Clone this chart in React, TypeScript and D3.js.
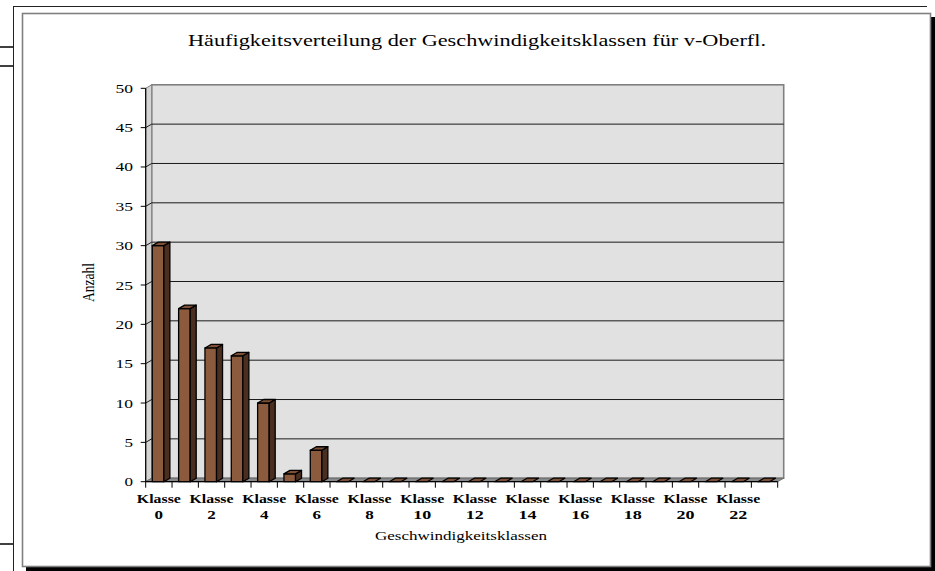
import React from "react";
import * as d3 from "d3";

// Speed-class frequency distribution (3D column chart)
const categories = [
  "Klasse 0", "Klasse 1", "Klasse 2", "Klasse 3", "Klasse 4", "Klasse 5",
  "Klasse 6", "Klasse 7", "Klasse 8", "Klasse 9", "Klasse 10", "Klasse 11",
  "Klasse 12", "Klasse 13", "Klasse 14", "Klasse 15", "Klasse 16", "Klasse 17",
  "Klasse 18", "Klasse 19", "Klasse 20", "Klasse 21", "Klasse 22", "Klasse 23",
];
const counts = [30, 22, 17, 16, 10, 1, 4, 0, 0, 0, 0, 0, 0, 0, 0, 0, 0, 0, 0, 0, 0, 0, 0, 0];
const yTicks = [0, 5, 10, 15, 20, 25, 30, 35, 40, 45, 50];

const title = "Häufigkeitsverteilung der Geschwindigkeitsklassen für v-Oberfl.";
const xTitle = "Geschwindigkeitsklassen";
const yTitle = "Anzahl";

const W = 935;
const H = 571;
const FONT = "'Liberation Serif', 'Times New Roman', serif";

// 3D depth offset of the back wall
const DX = 6;
const DY = -3.5;

export default function App() {
  const x = d3
    .scaleBand<string>()
    .domain(categories)
    .range([145.7, 777.7])
    .paddingInner(0)
    .paddingOuter(0);
  const y = d3.scaleLinear().domain([0, 50]).range([481.7, 88.3]);

  const x0 = x.range()[0];
  const x1 = x.range()[1];
  const y0 = y(0);
  const yTop = y(50);
  const bw = x.bandwidth();
  const barOff = bw * 0.25;
  const barW = bw * 0.44;

  const pts = (p: [number, number][]) => p.map((q) => q.join(",")).join(" ");

  return (
    <svg
      width={W}
      height={H}
      style={{ position: "absolute", left: 0, top: 0, display: "block", background: "#fff" }}
      fontFamily={FONT}
    >
      {/* page edges */}
      <line x1={13} y1={6.5} x2={927} y2={6.5} stroke="#222" strokeWidth={1} />
      <line x1={13.5} y1={6} x2={13.5} y2={H} stroke="#222" strokeWidth={1} />
      <line x1={0} y1={47} x2={13} y2={47} stroke="#000" strokeWidth={1.5} />
      <line x1={0} y1={66} x2={13} y2={66} stroke="#000" strokeWidth={1.5} />
      <line x1={0} y1={544} x2={13} y2={544} stroke="#000" strokeWidth={1.5} />

      {/* chart frame with shadow */}
      <rect x={26} y={17} width={W - 26} height={H - 17} fill="#000" />
      <rect x={22.5} y={13.5} width={908} height={553} fill="#fff" stroke="#808080" strokeWidth={1.6} />

      {/* title */}
      <text x={477} y={45.5} fontSize={17} textAnchor="middle" textLength={578} lengthAdjust="spacingAndGlyphs">
        {title}
      </text>

      {/* back wall */}
      <rect
        x={x0 + DX}
        y={yTop + DY}
        width={x1 - x0}
        height={y0 - yTop}
        fill="#e1e1e1"
        stroke="#808080"
        strokeWidth={1.6}
      />
      {/* side wall */}
      <polygon
        points={pts([
          [x0, yTop],
          [x0 + DX, yTop + DY],
          [x0 + DX, y0 + DY],
          [x0, y0],
        ])}
        fill="#d4d4d4"
        stroke="#808080"
        strokeWidth={1}
      />
      {/* floor */}
      <polygon
        points={pts([
          [x0, y0],
          [x1, y0],
          [x1 + DX, y0 + DY],
          [x0 + DX, y0 + DY],
        ])}
        fill="#8a8a8a"
        stroke="#666"
        strokeWidth={0.8}
      />

      {/* gridlines */}
      {yTicks
        .filter((t) => t > 0 && t < 50)
        .map((t) => (
          <g key={`g${t}`}>
            <line x1={x0 + DX} x2={x1 + DX} y1={y(t) + DY} y2={y(t) + DY} stroke="#1a1a1a" strokeWidth={1} />
            <line x1={x0} x2={x0 + DX} y1={y(t)} y2={y(t) + DY} stroke="#1a1a1a" strokeWidth={1} />
          </g>
        ))}

      {/* y axis */}
      <line x1={x0} x2={x0} y1={yTop} y2={y0} stroke="#000" strokeWidth={1.2} />
      {yTicks.map((t) => (
        <g key={`yt${t}`}>
          <line x1={x0 - 5} x2={x0} y1={y(t)} y2={y(t)} stroke="#000" strokeWidth={1} />
          <text
            x={133}
            y={y(t) + 4.5}
            fontSize={13}
            textAnchor="end"
            textLength={String(t).length > 1 ? 17.5 : 8.5}
            lengthAdjust="spacingAndGlyphs"
          >
            {t}
          </text>
        </g>
      ))}

      {/* bars */}
      {categories.map((c, i) => {
        const v = counts[i];
        const bx = (x(c) as number) + barOff;
        const yv = y(v);
        return (
          <g key={c} stroke="#000" strokeWidth={1.3} strokeLinejoin="round">
            {v > 0 && <rect x={bx} y={yv} width={barW} height={y0 - yv} fill="#8c5b3e" />}
            {v > 0 && (
              <polygon
                points={pts([
                  [bx + barW, yv],
                  [bx + barW + DX, yv + DY],
                  [bx + barW + DX, y0 + DY],
                  [bx + barW, y0],
                ])}
                fill="#4a2e20"
              />
            )}
            <polygon
              points={pts([
                [bx, yv],
                [bx + DX, yv + DY],
                [bx + barW + DX, yv + DY],
                [bx + barW, yv],
              ])}
              fill="#7d4f34"
            />
          </g>
        );
      })}

      {/* x axis */}
      <line x1={x0} x2={x1} y1={y0} y2={y0} stroke="#000" strokeWidth={1.2} />
      {categories.concat([""]).map((c, i) => {
        const tx = i < categories.length ? (x(c) as number) : x1;
        return <line key={`xt${i}`} x1={tx} x2={tx} y1={y0} y2={y0 + 6} stroke="#000" strokeWidth={1} />;
      })}
      {categories.map((c, i) => {
        if (i % 2 !== 0) return null;
        const cx = (x(c) as number) + bw / 2;
        const [word, num] = c.split(" ");
        return (
          <g key={`xl${c}`} fontSize={13} fontWeight="bold" textAnchor="middle">
            <text x={cx} y={503} textLength={44} lengthAdjust="spacingAndGlyphs">
              {word}
            </text>
            <text x={cx} y={518.5} textLength={num.length > 1 ? 18 : 8.5} lengthAdjust="spacingAndGlyphs">
              {num}
            </text>
          </g>
        );
      })}

      {/* axis titles */}
      <text x={461} y={539.5} fontSize={13.5} textAnchor="middle" textLength={172} lengthAdjust="spacingAndGlyphs">
        {xTitle}
      </text>
      <text
        transform="translate(93.5,282.5) scale(1.3,1) rotate(-90)"
        fontSize={13.5}
        textAnchor="middle"
        textLength={39}
        lengthAdjust="spacingAndGlyphs"
      >
        {yTitle}
      </text>
    </svg>
  );
}
